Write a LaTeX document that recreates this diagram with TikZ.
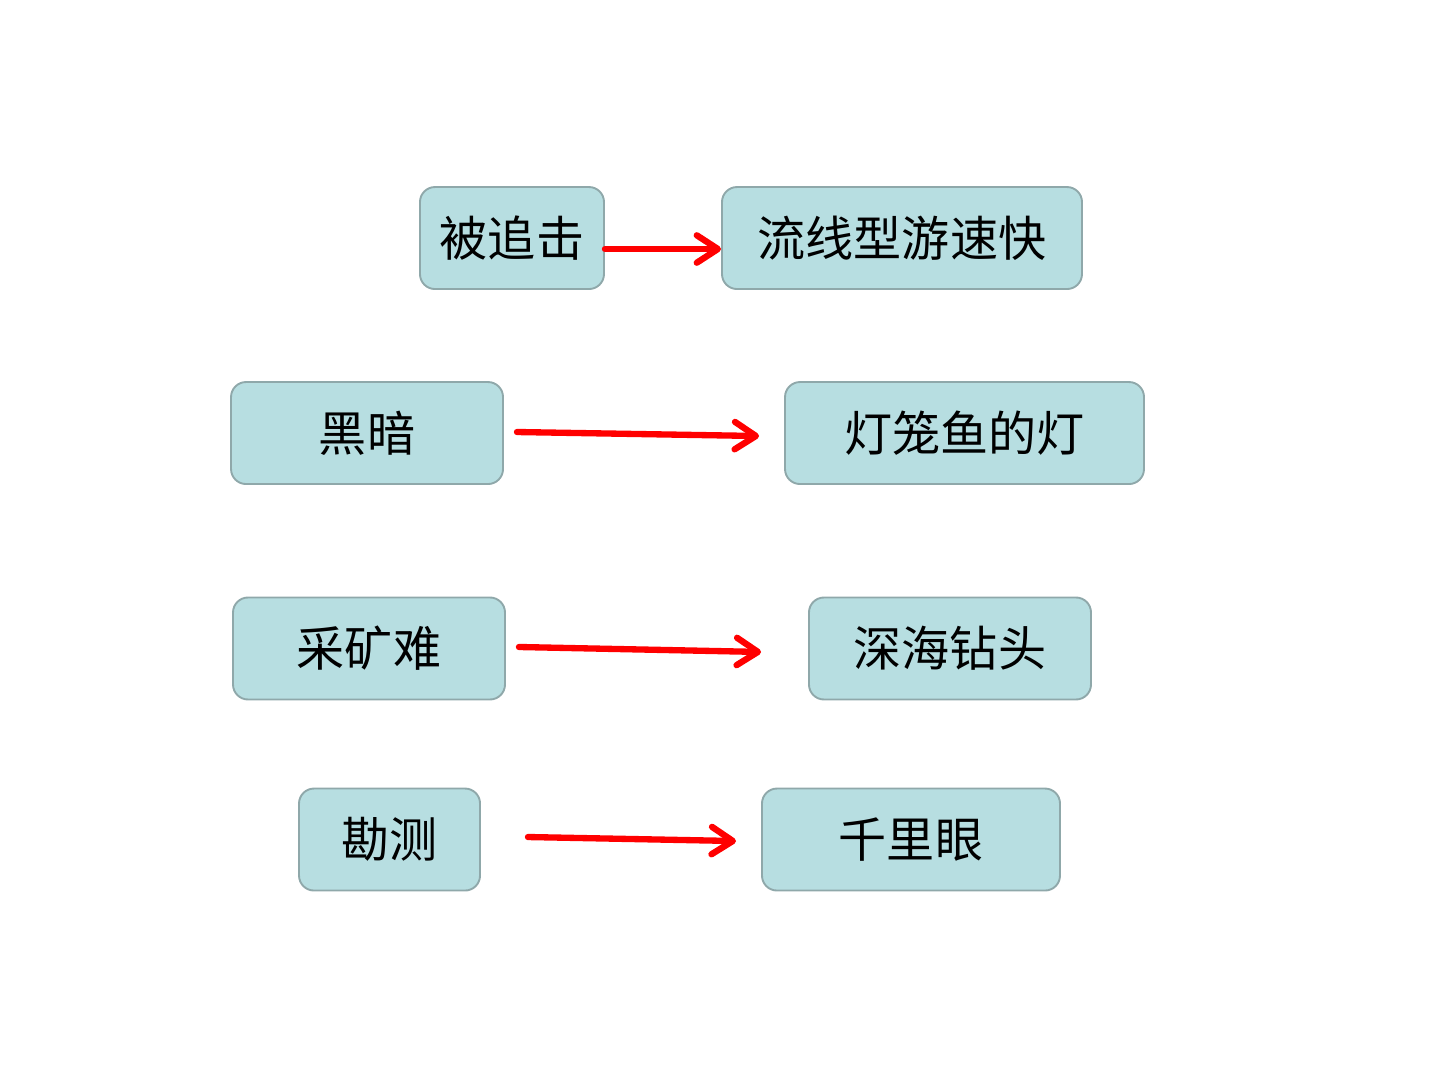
\documentclass[tikz,border=0pt]{standalone}
\usepackage{fontspec}
\newfontfamily\cjk{Noto Sans CJK SC}
\usepackage{xcolor}
\usetikzlibrary{positioning,calc,arrows.meta}

\definecolor{boxfill}{HTML}{B7DEE1}
\definecolor{boxline}{HTML}{8FA8AA}
\definecolor{arrowred}{HTML}{FF0000}

\tikzset{
  card/.style={draw=boxline, line width=0.9pt, fill=boxfill, rounded corners=0.25cm,
    minimum height=1.70cm, inner sep=0pt, font=\cjk\fontsize{22.8}{26}\selectfont},
  redarrow/.style={draw=arrowred, line width=3pt, line cap=round,
    -{Straight Barb[length=10pt,width=13pt,line cap=round,line join=round]}}
}

\begin{document}
\begin{tikzpicture}
    \useasboundingbox (0,0) rectangle (24,-18);

    % Causes
    \node[card, minimum width=3.067cm] (chased) at (8.533,-3.967) {被追击};
    \node[card, minimum width=4.533cm] (dark) at (6.117,-7.217) {黑暗};
    \node[card, minimum width=4.533cm] (mining) at (6.150,-10.808) {采矿难};
    \node[card, minimum width=3.017cm] (survey) at (6.492,-13.992) {勘测};

    % Inventions
    \node[card, minimum width=6.000cm] (stream) at (15.033,-3.967) {流线型游速快};
    \node[card, minimum width=5.983cm] (lantern) at (16.075,-7.217) {灯笼鱼的灯};
    \node[card, minimum width=4.700cm] (drill) at (15.833,-10.808) {深海钻头};
    \node[card, minimum width=4.967cm] (farsight) at (15.183,-13.992) {千里眼};

    % Arrows
    \draw[redarrow] ([yshift=-0.183cm]chased.east) -- ([yshift=-0.183cm]stream.west);
    \draw[redarrow] ([shift={(0.217,0.017)}]dark.east) -- ([shift={(-0.417,-0.050)}]lantern.west);
    \draw[redarrow] ([shift={(0.217,0.025)}]mining.east) -- ([shift={(-0.783,-0.058)}]drill.west);
    \draw[redarrow] ([shift={(0.783,0.042)}]survey.east) -- ([shift={(-0.417,-0.025)}]farsight.west);
\end{tikzpicture}
\end{document}
